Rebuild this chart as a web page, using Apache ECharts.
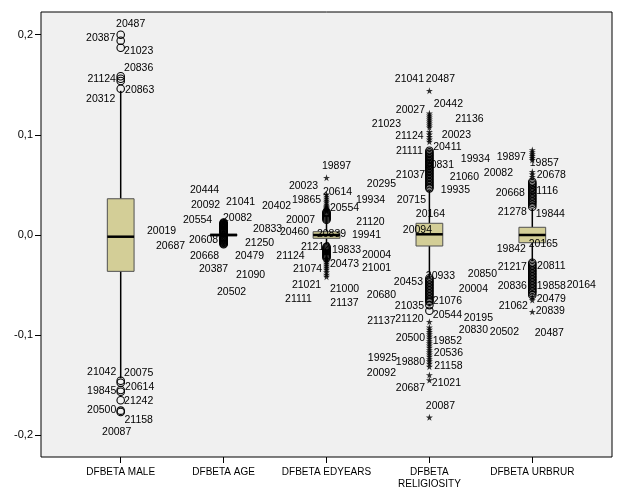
<!DOCTYPE html>
<html><head><meta charset="utf-8">
<script src="https://cdn.jsdelivr.net/npm/echarts@6/dist/echarts.min.js"></script>
<style>html,body{margin:0;padding:0;background:#fff}#c{width:624px;height:501px}</style>
</head><body><div id="c"></div>
<script>
// ---------------- DATA ----------------
const categories = ['DFBETA MALE', 'DFBETA AGE', 'DFBETA EDYEARS', 'DFBETA\nRELIGIOSITY', 'DFBETA URBRUR'];
const yTicks = [-0.2, -0.1, 0, 0.1, 0.2];

const whiskerLow  = [-0.143, -0.0015, -0.0095, -0.042, -0.026];
const q1          = [-0.0363, -0.0008, -0.0033, -0.011, -0.0077];
const median      = [-0.0017, 0, 0, 0.0007, 0];
const q3          = [0.0362, 0.0008, 0.0033, 0.0117, 0.0077];
const whiskerHigh = [0.144, 0.0016, 0.012, 0.044, 0.026];

const maleCircles = [0.200, 0.194, 0.187, 0.1585, 0.1561, 0.1538, 0.1461,
  -0.1455, -0.1475, -0.1548, -0.1565, -0.165, -0.1754, -0.1767];
const maleStars = [];
const ageCircles = [0.0125, 0.0118, 0.0112, 0.0105, 0.0099, 0.0093, 0.0088, 0.0082, 0.0077, 0.0071,
  0.0066, 0.006, 0.0055, 0.005, 0.0045, 0.004, 0.0035, 0.003, 0.0026, 0.0022,
  -0.0021, -0.0025, -0.003, -0.0035, -0.004, -0.0046, -0.0052, -0.0058, -0.0064, -0.007, -0.0077, -0.0084, -0.0093];
const ageStars = [0.0136, 0.0131];
const eduCircles = [0.0152, 0.0162, 0.0172, 0.0182, 0.0192, 0.0202, 0.0212, 0.0222, 0.023,
  -0.0118, -0.0128, -0.0138, -0.0148, -0.0158, -0.0168, -0.0178, -0.0188, -0.0198, -0.0208, -0.0218, -0.0228];
const eduStars = [0.0238, 0.0248, 0.0258, 0.0268, 0.0278, 0.029, 0.0305, 0.0327, 0.0345, 0.0365, 0.0385, 0.0406, 0.0572,
  -0.0238, -0.0252, -0.0267, -0.0285, -0.0305, -0.0325, -0.0345, -0.037, -0.0395, -0.0416];
const religCircles = [0.0842, 0.0825, 0.081, 0.0795, 0.078, 0.0765, 0.075, 0.0735, 0.072, 0.0705, 0.069, 0.0675,
  0.066, 0.0645, 0.063, 0.0615, 0.06, 0.0585, 0.057, 0.0555, 0.054, 0.0525, 0.051, 0.0495, 0.048, 0.0466,
  -0.0432, -0.0447, -0.0462, -0.0477, -0.0492, -0.0507, -0.0522, -0.0537, -0.0552, -0.0567, -0.0582, -0.0597,
  -0.0612, -0.0627, -0.0642, -0.0657, -0.0666, -0.070, -0.0756];
const religStars = [0.1441, 0.1215, 0.1195, 0.1175, 0.1155, 0.1135, 0.1115, 0.1095, 0.1075, 0.1031, 0.1005, 0.098, 0.0955, 0.0932,
  -0.0866, -0.0922, -0.0945, -0.0968, -0.099, -0.1012, -0.1035, -0.1058, -0.108, -0.1102, -0.1125, -0.1148, -0.117,
  -0.1192, -0.1215, -0.1238, -0.126, -0.1285, -0.1315, -0.1398, -0.1448, -0.182];
const urbCircles = [0.0532, 0.0517, 0.0502, 0.0487, 0.0472, 0.0457, 0.0442, 0.0427, 0.0412, 0.0397, 0.0382, 0.0367,
  0.0352, 0.0337, 0.0322, 0.0305, 0.0283,
  -0.0277, -0.0292, -0.0307, -0.0322, -0.0337, -0.0352, -0.0367, -0.0382, -0.0397, -0.0412, -0.0427, -0.0442,
  -0.0457, -0.0472, -0.0487, -0.0502, -0.0517, -0.0532, -0.0547, -0.0562, -0.0577, -0.060];
const urbStars = [0.0849, 0.0829, 0.0809, 0.079, 0.077, 0.075, 0.0632, 0.0607, 0.0582, -0.062, -0.065, -0.0766];

// outlier case labels: [category index, case id, value where the label sits]
const caseLabels = [
  [0,'20487',0.2107],[0,'20387',0.1964],[0,'21023',0.1837],[0,'20836',0.1667],[0,'21124',0.1555],
  [0,'20863',0.1448],[0,'20312',0.1361],[0,'21042',-0.1371],[0,'20075',-0.1381],[0,'20614',-0.1518],
  [0,'19845',-0.1555],[0,'21242',-0.1655],[0,'20500',-0.175],[0,'21158',-0.1847],[0,'20087',-0.1964],
  [1,'20444',0.0449],[1,'20092',0.0296],[1,'21041',0.0327],[1,'20402',0.0293],[1,'20554',0.015],
  [1,'20082',0.017],[1,'20833',0.0057],[1,'20019',0.004],[1,'20608',-0.0053],[1,'21250',-0.0077],
  [1,'20687',-0.0107],[1,'20668',-0.021],[1,'20479',-0.021],[1,'20387',-0.034],[1,'21090',-0.0399],
  [1,'20502',-0.0569],
  [2,'19897',0.0689],[2,'20023',0.0489],[2,'20614',0.0432],[2,'19865',0.0349],[2,'19934',0.0349],
  [2,'20554',0.0273],[2,'20007',0.015],[2,'21120',0.013],[2,'20460',0.0027],[2,'20839',0.001],
  [2,'19941',0.0],[2,'21212',-0.0117],[2,'19833',-0.0153],[2,'20004',-0.02],[2,'21124',-0.021],
  [2,'20473',-0.029],[2,'21001',-0.0334],[2,'21074',-0.034],[2,'21021',-0.0499],[2,'21000',-0.0536],
  [2,'21111',-0.0636],[2,'21137',-0.0682],
  [3,'21041',0.1555],[3,'20487',0.1555],[3,'20442',0.1308],[3,'20027',0.1248],[3,'21136',0.1155],
  [3,'21023',0.1108],[3,'20023',0.0999],[3,'21124',0.0989],[3,'20411',0.0876],[3,'21111',0.0842],
  [3,'19934',0.0756],[3,'20831',0.0699],[3,'20082',0.0616],[3,'21037',0.0599],[3,'21060',0.0576],
  [3,'20295',0.0509],[3,'19935',0.0449],[3,'20715',0.0349],[3,'20164',0.021],[3,'20094',0.005],
  [3,'20850',-0.0392],[3,'20933',-0.0406],[3,'20453',-0.0466],[3,'20004',-0.0539],[3,'20680',-0.0599],
  [3,'21076',-0.0659],[3,'21035',-0.0709],[3,'20544',-0.0799],[3,'20195',-0.0832],[3,'21120',-0.0842],
  [3,'21137',-0.0864],[3,'20830',-0.0949],[3,'20502',-0.0966],[3,'20500',-0.1031],[3,'19852',-0.1055],
  [3,'20536',-0.1175],[3,'19925',-0.1231],[3,'19880',-0.1271],[3,'21158',-0.1308],[3,'20092',-0.1381],
  [3,'21021',-0.1481],[3,'20687',-0.1531],[3,'20087',-0.1704],
  [4,'19897',0.0776],[4,'19857',0.0716],[4,'20678',0.0596],[4,'21116',0.0436],[4,'20668',0.0416],
  [4,'19844',0.021],[4,'21278',0.023],[4,'20165',-0.009],[4,'19842',-0.0143],[4,'20811',-0.0307],
  [4,'21217',-0.0317],[4,'20164',-0.0499],[4,'20836',-0.0506],[4,'19858',-0.0506],[4,'20479',-0.0639],
  [4,'21062',-0.0709],[4,'20839',-0.0756],[4,'20487',-0.0976]
];

// ---------------- LAYOUT (label horizontal offsets in px, parallel to caseLabels) ----------------
const labelDx = [
  10,-20,18,18,-19, 19,-20,-19,18,19, -19,18,-19,18,-4,
  -19,-18,17,53,-26, 14,44,-62,-20,36, -53,-19,26,-10,27, 8,
  10,-23,11,-20,44, 18,-26,44,-32,5, 40,-11,20,50,-36, 18,50,-19,-20,18, -28,18,
  -20,11,19,-19,40, -43,27,-20,18,-20, 46,10,69,-19,35, -48,26,-18,1,-12,
  53,11,-21,44,-48, 18,-20,18,49,-20, -48,44,75,-19,18, 19,-47,-19,19,-48, 17,-19,11,
  -21,12,19,12,-22, 18,-20,11,-21,19, -20,49,-20,19,19, -19,18,17
];

const BOX_HALF = 0.13;
const FONT = '"Liberation Sans", Arial, sans-serif';
const circleSets = [maleCircles, ageCircles, eduCircles, religCircles, urbCircles];
const starSets = [maleStars, ageStars, eduStars, religStars, urbStars];
const STAR = 'path://M50,0 L61,35 L98,35 L68,57 L79,91 L50,70 L21,91 L32,57 L2,35 L39,35 Z';

const boxData = categories.map((c, i) => [i, whiskerLow[i], q1[i], median[i], q3[i], whiskerHigh[i]]);
const circleData = circleSets.flatMap((arr, i) => arr.map(v => [i, v]));
const starData = starSets.flatMap((arr, i) => arr.map(v => [i, v]));
const labelPts = caseLabels.map(d => [d[0], d[2]]);

function fmtY(v) { return (Math.round(v * 10) / 10).toFixed(1).replace('.', ','); }

const chart = echarts.init(document.getElementById('c'), null, { renderer: 'canvas' });
chart.setOption({
  animation: false,
  backgroundColor: '#ffffff',
  grid: { left: 41, right: 12, top: 12, bottom: 44, show: true, backgroundColor: '#f0f0f0',
    borderColor: '#000', borderWidth: 1, containLabel: false },
  xAxis: {
    type: 'value', min: -0.7745, max: 4.7745, position: 'bottom',
    splitLine: { show: false }, axisLine: { show: false, onZero: false },
    axisTick: { show: true, customValues: [0, 1, 2, 3, 4], length: 6, lineStyle: { color: '#000', width: 1 } },
    axisLabel: { show: true, customValues: [0, 1, 2, 3, 4], formatter: v => categories[Math.round(v)],
      margin: 9, fontSize: 10, lineHeight: 12, color: '#000', fontFamily: FONT }
  },
  yAxis: {
    type: 'value', min: -0.2217, max: 0.2227, position: 'left',
    splitLine: { show: false }, axisLine: { show: false, onZero: false },
    axisTick: { show: true, customValues: yTicks, length: 6, lineStyle: { color: '#000', width: 1 } },
    axisLabel: { show: true, customValues: yTicks, formatter: fmtY, margin: 8, fontSize: 11,
      color: '#000', fontFamily: FONT }
  },
  series: [
    {
      type: 'custom', z: 2, data: boxData, silent: true,
      renderItem: function (params, api) {
        const x = api.value(0);
        const tl = api.coord([x - BOX_HALF, api.value(4)]);
        const br = api.coord([x + BOX_HALF, api.value(2)]);
        const lo = api.coord([x, api.value(1)]);
        const hi = api.coord([x, api.value(5)]);
        const ml = api.coord([x - BOX_HALF, api.value(3)]);
        const mr = api.coord([x + BOX_HALF, api.value(3)]);
        return { type: 'group', children: [
          { type: 'line', shape: { x1: hi[0], y1: hi[1], x2: hi[0], y2: tl[1] }, style: { stroke: '#000', lineWidth: 1.5 } },
          { type: 'line', shape: { x1: lo[0], y1: br[1], x2: lo[0], y2: lo[1] }, style: { stroke: '#000', lineWidth: 1.5 } },
          { type: 'rect', shape: { x: tl[0], y: tl[1], width: br[0] - tl[0], height: br[1] - tl[1] },
            style: { fill: '#d3ce97', stroke: '#505050', lineWidth: 1 } },
          { type: 'line', shape: { x1: ml[0], y1: ml[1], x2: mr[0], y2: mr[1] }, style: { stroke: '#000', lineWidth: 2.5 } }
        ] };
      }
    },
    {
      type: 'custom', z: 3, data: labelPts, silent: true,
      renderItem: function (params, api) {
        const p = api.coord([api.value(0), api.value(1)]);
        const i = params.dataIndex;
        return { type: 'text', x: p[0] + labelDx[i], y: p[1],
          style: { text: caseLabels[i][1], fill: '#000', font: '10.5px ' + FONT, align: 'center', verticalAlign: 'middle' } };
      }
    },
    {
      type: 'scatter', z: 4, data: circleData, symbol: 'circle', symbolSize: 7.5, silent: true,
      itemStyle: { color: 'rgba(0,0,0,0)', borderColor: '#000', borderWidth: 1.1, opacity: 1 }
    },
    {
      type: 'scatter', z: 5, data: starData, symbol: STAR, symbolSize: 7, silent: true,
      itemStyle: { color: '#000' }
    }
  ]
});
</script>
</body></html>
